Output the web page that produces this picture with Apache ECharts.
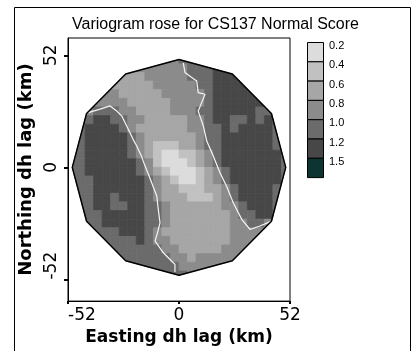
<!DOCTYPE html>
<html>
<head>
<meta charset="utf-8">
<script src="https://cdn.jsdelivr.net/npm/echarts@6/dist/echarts.min.js"></script>
<style>
  html, body { margin: 0; padding: 0; background: #fff; }
  #chart { width: 415px; height: 351px; }
</style>
</head>
<body>
<div id="chart"></div>
<script>
// Variogram surface of the CS137 normal scores on a 4 km lag grid.
const _ = null;
const eastings = [-50,-46,-42,-38,-34,-30,-26,-22,-18,-14,-10,-6,-2,2,6,10,14,18,22,26,30,34,38,42,46,50];
const northings = [50,46,42,38,34,30,26,22,18,14,10,6,2,-2,-6,-10,-14,-18,-22,-26,-30,-34,-38,-42,-46,-50];
const gammaRows = [
  [_,_,_,_,_,_,_,_,_,_,_,.9,.9,1.1,1.1,_,_,_,_,_,_,_,_,_,_,_],
  [_,_,_,_,_,_,_,.9,.9,.9,.9,.9,.9,.9,1.1,1.1,1.1,1.35,1.35,_,_,_,_,_,_,_],
  [_,_,_,_,_,.9,.7,.7,.7,.9,.9,.9,.9,.9,1.1,1.1,1.1,1.35,1.35,1.35,1.35,_,_,_,_,_],
  [_,_,_,_,.9,.7,.7,.7,.7,.7,.9,.9,.9,.9,.9,1.1,1.1,1.35,1.35,1.35,1.35,1.35,_,_,_,_],
  [_,_,_,.9,.9,.9,.7,.7,.7,.7,.7,.9,.9,.9,.9,.9,1.1,1.35,1.35,1.35,1.35,1.35,1.35,_,_,_],
  [_,_,.9,.9,.9,.9,.9,.7,.7,.7,.7,.7,.9,.9,.9,.9,1.1,1.35,1.35,1.35,1.35,1.35,1.35,1.35,_,_],
  [_,_,.9,1.1,1.1,1.1,.9,.9,.7,.7,.7,.7,.9,.9,.9,1.1,1.1,1.35,1.35,1.35,1.35,1.35,1.1,1.1,_,_],
  [_,1.1,1.1,1.35,1.35,1.1,1.1,.9,.9,.7,.7,.7,.7,.7,.9,.9,1.1,1.35,1.35,1.1,1.1,1.35,1.1,1.35,1.1,_],
  [_,1.1,1.35,1.35,1.35,1.35,1.1,.9,.7,.7,.7,.7,.7,.7,.9,.9,1.1,1.1,1.35,1.1,1.35,1.35,1.35,1.35,1.1,_],
  [_,1.1,1.35,1.35,1.35,1.35,1.35,1.1,.9,.7,.7,.7,.7,.7,.7,.9,1.1,1.1,1.35,1.35,1.35,1.35,1.35,1.35,1.1,_],
  [_,1.1,1.35,1.35,1.35,1.35,1.35,1.1,.9,.7,.5,.5,.5,.7,.7,.9,1.1,1.1,1.35,1.35,1.35,1.35,1.35,1.35,1.1,_],
  [1.1,1.1,1.35,1.35,1.35,1.35,1.35,1.1,.9,.7,.5,.3,.3,.5,.5,.7,.9,1.1,1.35,1.35,1.35,1.35,1.35,1.35,1.35,1.1],
  [1.1,1.1,1.35,1.35,1.35,1.35,1.35,1.35,1.1,.9,.5,.3,.3,.3,.5,.7,.9,1.1,1.35,1.35,1.35,1.35,1.35,1.35,1.35,1.1],
  [1.1,1.1,1.35,1.35,1.35,1.35,1.35,1.35,1.1,.9,.7,.5,.3,.3,.3,.5,.7,.9,1.1,1.35,1.35,1.35,1.35,1.35,1.35,1.1],
  [1.1,1.1,1.1,1.35,1.35,1.35,1.35,1.35,1.35,1.1,.9,.7,.5,.3,.3,.5,.7,.9,1.1,1.35,1.35,1.35,1.35,1.35,1.35,1.1],
  [_,1.1,1.1,1.35,1.35,1.35,1.35,1.35,1.35,1.1,.9,.7,.7,.5,.5,.5,.7,.7,.9,1.1,1.35,1.35,1.35,1.35,1.1,_],
  [_,1.1,1.1,1.35,1.35,1.1,1.35,1.35,1.35,1.1,.9,.7,.7,.7,.5,.5,.5,.7,.9,1.1,1.35,1.35,1.35,1.35,1.1,_],
  [_,1.1,1.1,1.35,1.35,1.1,1.1,1.35,1.35,1.1,1.1,.9,.7,.7,.7,.7,.7,.7,.9,.9,1.1,1.35,1.35,1.35,1.1,_],
  [_,1.1,1.1,1.1,1.35,1.35,1.35,1.35,1.35,1.1,1.1,.9,.7,.7,.7,.7,.7,.7,.7,.9,1.1,1.1,1.35,1.35,1.1,_],
  [_,_,1.1,1.1,1.35,1.35,1.35,1.35,1.35,1.1,1.1,.9,.7,.7,.7,.7,.7,.7,.7,.9,.9,1.1,1.1,.9,_,_],
  [_,_,1.1,1.1,1.1,1.1,1.35,1.35,1.35,1.1,.9,.7,.7,.7,.7,.7,.7,.7,.7,.9,.9,.9,.9,.9,_,_],
  [_,_,_,1.1,1.1,1.1,1.1,1.1,1.35,1.1,.9,.9,.7,.7,.7,.7,.7,.7,.7,.9,.9,.9,.9,_,_,_],
  [_,_,_,_,1.1,1.1,1.1,1.1,1.1,1.1,1.1,.9,.9,.7,.7,.7,.7,.7,.9,.9,.9,.9,_,_,_,_],
  [_,_,_,_,_,1.1,1.1,1.1,1.1,1.1,1.1,1.1,.9,.9,.7,.9,.9,.9,.9,.9,.9,_,_,_,_,_],
  [_,_,_,_,_,_,_,1.1,1.1,1.1,1.1,1.1,1.1,.9,.9,.9,.9,.9,.9,_,_,_,_,_,_,_],
  [_,_,_,_,_,_,_,_,_,_,_,1.1,1.1,1.1,.9,_,_,_,_,_,_,_,_,_,_,_]
];

// Sill contour (gamma = 1.0) traced on each side of the low-variogram band.
const westSill = [[-42.5,25.4],[-37,27],[-32.3,28.5],[-29,26],[-26.8,23.8],[-23.7,17.6],[-21.5,13],[-19.8,9.9],[-17.5,5],[-15.9,0.6],[-14,-4],[-12.8,-7.1],[-10.4,-13.3],[-9.7,-19.5],[-8.9,-25.7],[-10,-30],[-11.2,-34.2],[-7.3,-39.6],[-4.2,-42.7],[-1.9,-45],[-1.9,-48.5]];
const eastSill = [[2,48.5],[2.8,44],[5.5,42],[8.3,40.1],[9,34.7],[12.2,33.9],[9,26.1],[11.4,19.2],[13,12.2],[16.1,5.2],[19.2,-2.5],[22.3,-8.7],[25.4,-16.4],[29.4,-24.1],[33.3,-28.8],[37.9,-27.2],[43.4,-24.9]];

const bandLabels = ['0.2','0.4','0.6','0.8','1.0','1.2','1.5'];
const bandBreaks = [0.4, 0.6, 0.8, 1.0, 1.2, 1.5];
const bandColors = ['#dcdcdc','#c1c1c1','#a6a6a6','#8b8b8b','#6b6b6b','#474747','#0c3430'];
const axisTickValues = [-52, 0, 52];

const lagRadius = 50;   // km, extent of the rose
const lagStep = 4;      // km, grid spacing

// Grid cells as [easting, northing, gamma]
const cells = [];
northings.forEach((n, j) => {
  eastings.forEach((e, i) => {
    const g = gammaRows[j][i];
    if (g !== null) cells.push([e, n, g]);
  });
});

// Twelve-sided outline of the rose
const roseOutline = [];
for (let k = 0; k <= 12; k++) {
  const a = k * Math.PI / 6;
  roseOutline.push([lagRadius * Math.sin(a), lagRadius * Math.cos(a)]);
}

// Sutherland-Hodgman clip of a polygon against a convex polygon
function clipConvex(subject, clip) {
  let area = 0;
  for (let i = 0; i < clip.length; i++) {
    const p = clip[i], q = clip[(i + 1) % clip.length];
    area += p[0] * q[1] - q[0] * p[1];
  }
  const s = area > 0 ? 1 : -1;
  const side = (a, b, p) => s * ((b[0] - a[0]) * (p[1] - a[1]) - (b[1] - a[1]) * (p[0] - a[0]));
  let out = subject;
  for (let i = 0; i < clip.length && out.length; i++) {
    const a = clip[i], b = clip[(i + 1) % clip.length];
    const inp = out;
    out = [];
    for (let k = 0; k < inp.length; k++) {
      const p = inp[k], q = inp[(k + 1) % inp.length];
      const sp = side(a, b, p), sq = side(a, b, q);
      if (sp >= 0) out.push(p);
      if ((sp >= 0) !== (sq >= 0)) {
        const t = sp / (sp - sq);
        out.push([p[0] + t * (q[0] - p[0]), p[1] + t * (q[1] - p[1])]);
      }
    }
  }
  return out;
}

const pieces = bandColors.map((c, i) => {
  const p = { color: c };
  if (i > 0) p.gte = bandBreaks[i - 1];
  if (i < bandBreaks.length) p.lt = bandBreaks[i];
  return p;
});

// Legend boxes with their labels
const legendTop = 42, legendLeft = 307, boxW = 16, boxH = 19.3;
const legendGraphics = [];
bandColors.forEach((c, i) => {
  legendGraphics.push({
    type: 'rect',
    shape: { x: legendLeft + 0.5, y: legendTop + i * boxH + 0.5, width: boxW, height: boxH },
    style: { fill: c, stroke: '#000', lineWidth: 1 }
  });
  legendGraphics.push({
    type: 'text',
    x: 329, y: legendTop + i * boxH + 4,
    style: { text: bandLabels[i], font: '11px "Liberation Sans Narrow", "Liberation Sans", sans-serif',
             fill: '#000', verticalAlign: 'middle', align: 'left' }
  });
});

const chart = echarts.init(document.getElementById('chart'), null, { renderer: 'canvas' });
chart.setOption({
  animation: false,
  backgroundColor: '#fff',
  title: {
    text: 'Variogram rose for CS137 Normal Score',
    left: 67, top: 12,
    textStyle: { fontFamily: 'Liberation Sans', fontSize: 16, fontWeight: 'normal', color: '#000' }
  },
  graphic: [
    { type: 'rect', shape: { x: 14.5, y: 7.5, width: 396, height: 400 },
      style: { fill: 'none', stroke: '#000', lineWidth: 1 }, silent: true },
    ...legendGraphics
  ],
  grid: {
    left: 68, top: 38, width: 222, height: 264,
    show: true, borderColor: '#000', borderWidth: 1, backgroundColor: 'transparent'
  },
  xAxis: {
    type: 'value', min: -52, max: 52,
    name: 'Easting dh lag (km)', nameLocation: 'middle', nameGap: 25,
    nameTextStyle: { fontFamily: 'DejaVu Sans', fontWeight: 'bold', fontSize: 17, color: '#000' },
    axisLine: { show: true, onZero: false, lineStyle: { color: '#000', width: 1 } },
    axisTick: { show: true, length: 3, customValues: axisTickValues, lineStyle: { color: '#000', width: 2 } },
    axisLabel: { show: true, customValues: axisTickValues, margin: 6, color: '#000',
                 fontFamily: 'DejaVu Sans', fontSize: 17, alignMinLabel: 'left' },
    splitLine: { show: false }
  },
  yAxis: {
    type: 'value', min: -62, max: 60,
    name: 'Northing dh lag (km)', nameLocation: 'middle', nameGap: 29, nameRotate: 90,
    nameTextStyle: { fontFamily: 'DejaVu Sans', fontWeight: 'bold', fontSize: 18, color: '#000' },
    axisLine: { show: true, onZero: false, lineStyle: { color: '#000', width: 1 } },
    axisTick: { show: true, length: 4, customValues: axisTickValues, lineStyle: { color: '#000', width: 2 } },
    axisLabel: { show: true, customValues: axisTickValues, rotate: 90, margin: 8, color: '#000',
                 fontFamily: 'DejaVu Sans', fontSize: 17, alignMinLabel: 'left' },
    splitLine: { show: false }
  },
  visualMap: {
    type: 'piecewise', show: false, dimension: 2, seriesIndex: 0, pieces: pieces
  },
  series: [
    {
      type: 'custom',
      data: cells,
      encode: { x: 0, y: 1 },
      renderItem: function (params, api) {
        const e = api.value(0), n = api.value(1), h = lagStep / 2;
        const corners = [[e - h, n - h], [e + h, n - h], [e + h, n + h], [e - h, n + h]].map(p => api.coord(p));
        const rosePx = roseOutline.slice(0, 12).map(p => api.coord(p));
        const pts = clipConvex(corners, rosePx);
        if (pts.length < 3) return null;
        const color = api.visual('color');
        return { type: 'polygon', shape: { points: pts },
                 style: { fill: color, stroke: color, lineWidth: 0.8 } };
      },
      z: 1
    },
    {
      type: 'line', data: westSill, symbol: 'none', silent: true,
      lineStyle: { color: '#f4f4f4', width: 1.2 }, z: 3
    },
    {
      type: 'line', data: eastSill, symbol: 'none', silent: true,
      lineStyle: { color: '#f4f4f4', width: 1.2 }, z: 3
    },
    {
      type: 'line', data: roseOutline, symbol: 'none', silent: true,
      lineStyle: { color: '#000', width: 1.5 }, z: 4
    }
  ]
});
</script>
</body>
</html>
